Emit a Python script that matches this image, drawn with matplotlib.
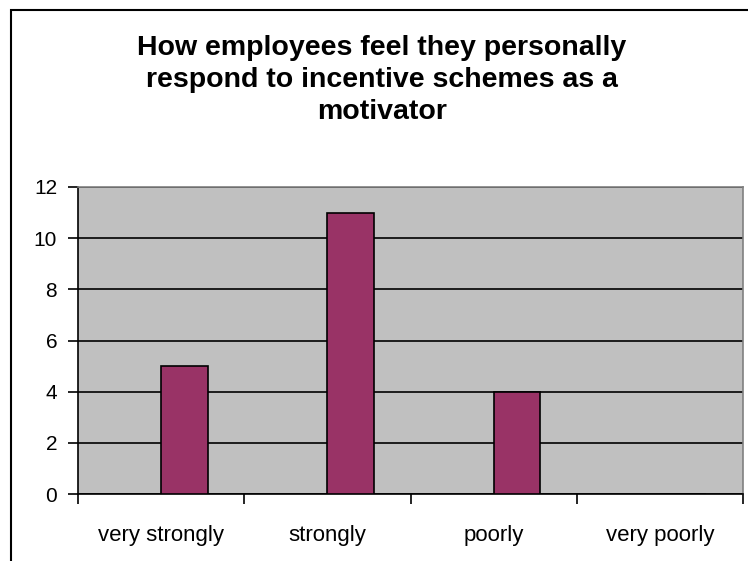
import numpy as np
import matplotlib.pyplot as plt
from matplotlib.patches import Rectangle

categories = ["very strongly", "strongly", "poorly", "very poorly"]
counts = [5, 11, 4, 0]
yticks = [0, 2, 4, 6, 8, 10, 12]
title = "How employees feel they personally\nrespond to incentive schemes as a\nmotivator"

plt.rcParams['font.family'] = ['Liberation Sans', 'DejaVu Sans']

fig = plt.figure(figsize=(7.48, 5.61), dpi=100)
# 外枠 (右と下ははみ出す)
fig.patches.append(Rectangle((11/748, -0.1), 1.2, 1 - 10/561 + 0.1,
                             transform=fig.transFigure, fill=False,
                             edgecolor="black", linewidth=1.5))

ax = fig.add_axes([78/748, 1 - 494/561, (743-78)/748, (494-187)/561])
ax.set_facecolor("#C0C0C0")

x = np.arange(len(categories))
ax.bar(x, counts, width=0.28, align="edge", color="#993366",
       edgecolor="black", linewidth=1.2, zorder=3)

ax.set_xlim(-0.5, len(categories) - 0.5)
ax.set_ylim(0, 12)
ax.set_yticks(yticks)
ax.tick_params(axis="y", labelsize=15, length=7, width=1.2, direction="out", pad=8)
ax.yaxis.grid(True, color="black", linewidth=1.2, zorder=1)
ax.set_axisbelow(True)

ax.set_xticks(x)
ax.set_xticklabels(categories, fontsize=16)
ax.set_xticks(np.arange(len(categories) + 1) - 0.5, minor=True)
ax.tick_params(axis="x", which="major", length=0, pad=22)
ax.tick_params(axis="x", which="minor", length=7, width=1.2, direction="out")

for s in ["top", "right"]:
    ax.spines[s].set_color("#808080")
    ax.spines[s].set_linewidth(1.2)
for s in ["left", "bottom"]:
    ax.spines[s].set_color("black")
    ax.spines[s].set_linewidth(1.2)

fig.text(0.5 + 8/748, 1 - 80/561, title, ha="center", va="center",
         fontsize=20.5, fontweight="bold", linespacing=1.32)

fig.savefig("out.png", dpi=100)
